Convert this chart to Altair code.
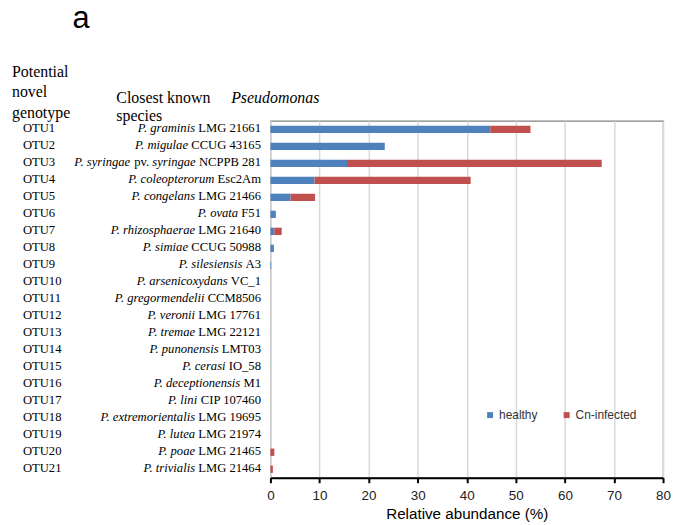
import re
import altair as alt
import pandas as pd

# ---------------- data ----------------
otus = ["OTU1", "OTU2", "OTU3", "OTU4", "OTU5", "OTU6", "OTU7", "OTU8", "OTU9", "OTU10",
        "OTU11", "OTU12", "OTU13", "OTU14", "OTU15", "OTU16", "OTU17", "OTU18", "OTU19",
        "OTU20", "OTU21"]
species = [
    "*P. graminis* LMG 21661",
    "*P. migulae* CCUG 43165",
    "*P. syringae* pv. *syringae* NCPPB 281",
    "*P. coleopterorum* Esc2Am",
    "*P. congelans* LMG 21466",
    "*P. ovata* F51",
    "*P. rhizosphaerae* LMG 21640",
    "*P. simiae* CCUG 50988",
    "*P. silesiensis* A3",
    "*P. arsenicoxydans* VC_1",
    "*P. gregormendelii* CCM8506",
    "*P. veronii* LMG 17761",
    "*P. tremae* LMG 22121",
    "*P. punonensis* LMT03",
    "*P. cerasi* IO_58",
    "*P. deceptionensis* M1",
    "*P. lini* CIP 107460",
    "*P. extremorientalis* LMG 19695",
    "*P. lutea* LMG 21974",
    "*P. poae* LMG 21465",
    "*P. trivialis* LMG 21464",
]
healthy = [44.8, 23.3, 15.6, 9.0, 4.1, 1.1, 0.8, 0.7, 0.15, 0, 0, 0, 0, 0, 0, 0, 0, 0, 0, 0, 0]
infected = [8.2, 0, 51.9, 31.8, 5.0, 0, 1.5, 0, 0, 0, 0, 0, 0, 0, 0, 0, 0, 0, 0, 0.8, 0.5]
groups = ["healthy", "Cn-infected"]
colors = ["#4F81BD", "#C0504D"]
x_ticks = [0, 10, 20, 30, 40, 50, 60, 70, 80]
x_title = "Relative abundance (%)"
panel_label = "a"
header_genotype = ["Potential", "novel", "genotype"]
header_closest = "Closest known"
header_genus = "Pseudomonas"
header_species = "species"

# ---------------- helpers ----------------
SERIF = "Liberation Serif"
SANS = "Liberation Sans"
LABEL_SIZE = 12.7

roman_w = dict(zip("abcdefghijklmnopqrstuvwxyz",
                   [444, 500, 444, 500, 444, 333, 500, 500, 278, 278, 500, 278, 778, 500, 500, 500, 500,
                    333, 389, 278, 500, 500, 722, 500, 500, 444]))
roman_w.update(dict(zip("ABCDEFGHIJKLMNOPQRSTUVWXYZ",
                        [722, 667, 667, 722, 611, 556, 722, 722, 333, 389, 722, 611, 889, 722, 722, 556,
                         722, 667, 556, 611, 722, 722, 944, 722, 722, 611])))
italic_w = dict(zip("abcdefghijklmnopqrstuvwxyz",
                    [500, 500, 444, 500, 444, 278, 500, 500, 278, 278, 444, 278, 722, 500, 500, 500, 500,
                     389, 389, 278, 500, 444, 667, 444, 444, 389]))
italic_w.update(dict(zip("ABCDEFGHIJKLMNOPQRSTUVWXYZ",
                         [611, 611, 667, 722, 611, 611, 722, 722, 333, 444, 667, 556, 833, 667, 722, 611,
                          722, 611, 500, 556, 722, 611, 833, 611, 556, 556])))
for d in (roman_w, italic_w):
    d.update({" ": 250, ".": 250, "_": 500})
    d.update({c: 500 for c in "0123456789"})


def text_width(s, italic, size):
    table = italic_w if italic else roman_w
    return sum(table.get(c, 500) for c in s) * size / 1000.0


seg_rows = []
for otu, lab in zip(otus, species):
    parts = lab.split("*")
    segs = [(p, i % 2 == 1) for i, p in enumerate(parts) if p]
    offset = 0.0
    for txt, ital in reversed(segs):
        trail = len(txt) - len(txt.rstrip(" "))
        seg_rows.append({"otu": otu, "text": txt.strip(" "), "italic": ital,
                         "xpix": -9.5 - offset - text_width(" " * trail, ital, LABEL_SIZE)})
        offset += text_width(txt, ital, LABEL_SIZE)
seg_df = pd.DataFrame(seg_rows)

bar_rows = []
for otu, h, c in zip(otus, healthy, infected):
    bar_rows.append({"otu": otu, "group": groups[0], "value": h, "order": 0})
    bar_rows.append({"otu": otu, "group": groups[1], "value": c, "order": 1})
bar_df = pd.DataFrame(bar_rows)
otu_df = pd.DataFrame({"otu": otus})
one = pd.DataFrame({"k": [0]})

y_enc = alt.Y("otu:N", sort=otus, axis=None)

bars = alt.Chart(bar_df).mark_bar().encode(
    x=alt.X("value:Q", stack="zero",
            scale=alt.Scale(domain=[0, 80], nice=False),
            axis=alt.Axis(values=x_ticks, title=x_title, grid=True, gridColor="#d9d9d9",
                          gridWidth=1.5, domainColor="black", domainWidth=2, tickColor="black",
                          tickWidth=2, tickSize=5, labelFont=SANS, labelFontSize=13.5,
                          labelColor="#222", labelPadding=6, labelFlush=False,
                          titleFont=SANS, titleFontSize=15.3,
                          titleFontWeight="normal", titleColor="black", titlePadding=5)),
    y=alt.Y("otu:N", sort=otus,
            scale=alt.Scale(paddingInner=0.57, paddingOuter=0.285),
            axis=alt.Axis(labels=False, ticks=False, title=None, domainColor="black",
                          domainWidth=2, zindex=1)),
    color=alt.Color("group:N", scale=alt.Scale(domain=groups, range=colors),
                    legend=alt.Legend(title=None, orient="none", legendX=215, legendY=290,
                                      direction="horizontal", symbolType="square", symbolSize=36,
                                      symbolStrokeWidth=0, labelFont=SANS, labelFontSize=12,
                                      labelColor="#333", columnPadding=23, labelOffset=3,
                                      padding=0)),
    order=alt.Order("order:Q"),
)

ital_text = alt.Chart(seg_df).transform_filter("datum.italic").mark_text(
    align="right", baseline="middle", font=SERIF, fontSize=LABEL_SIZE, fontStyle="italic",
    color="black", dy=-1
).encode(x=alt.X("xpix:Q", scale=None, axis=None), y=y_enc, text="text:N")

rom_text = alt.Chart(seg_df).transform_filter("!datum.italic").mark_text(
    align="right", baseline="middle", font=SERIF, fontSize=LABEL_SIZE, color="black", dy=-1
).encode(x=alt.X("xpix:Q", scale=None, axis=None), y=y_enc, text="text:N")

otu_text = alt.Chart(otu_df).mark_text(
    align="left", baseline="middle", font=SERIF, fontSize=LABEL_SIZE, color="black", dy=-1
).encode(x=alt.value(-249), y=y_enc, text="otu:N")

hdr1 = alt.Chart(one).mark_text(
    align="left", baseline="middle", font=SERIF, fontSize=16, lineHeight=20.5, color="black"
).encode(x=alt.value(-260), y=alt.value(-49.3), text=alt.value(header_genotype))

hdr2 = alt.Chart(one).mark_text(
    align="left", baseline="middle", font=SERIF, fontSize=16, color="black"
).encode(x=alt.value(-155), y=alt.value(-23.3), text=alt.value(header_closest))

hdr3 = alt.Chart(one).mark_text(
    align="left", baseline="middle", font=SERIF, fontSize=16, fontStyle="italic", color="black"
).encode(x=alt.value(-39.5), y=alt.value(-23.3), text=alt.value(header_genus))

hdr4 = alt.Chart(one).mark_text(
    align="left", baseline="middle", font=SERIF, fontSize=16, color="black"
).encode(x=alt.value(-155), y=alt.value(-5), text=alt.value(header_species))

lbl = alt.Chart(one).mark_text(
    align="left", baseline="middle", font=SANS, fontSize=31, color="black"
).encode(x=alt.value(-199), y=alt.value(-102), text=alt.value(panel_label))

chart = alt.layer(bars, ital_text, rom_text, otu_text, hdr1, hdr2, hdr3, hdr4, lbl).resolve_scale(
    x="independent"
).properties(
    width=395, height=359,
    autosize=alt.AutoSizeParams(type="none"),
    padding={"left": 264, "top": 112, "right": 8, "bottom": 44},
).configure_view(stroke="#808080", strokeWidth=1.2)

chart.save("out.html", embed_options={"renderer": "svg", "actions": False})
